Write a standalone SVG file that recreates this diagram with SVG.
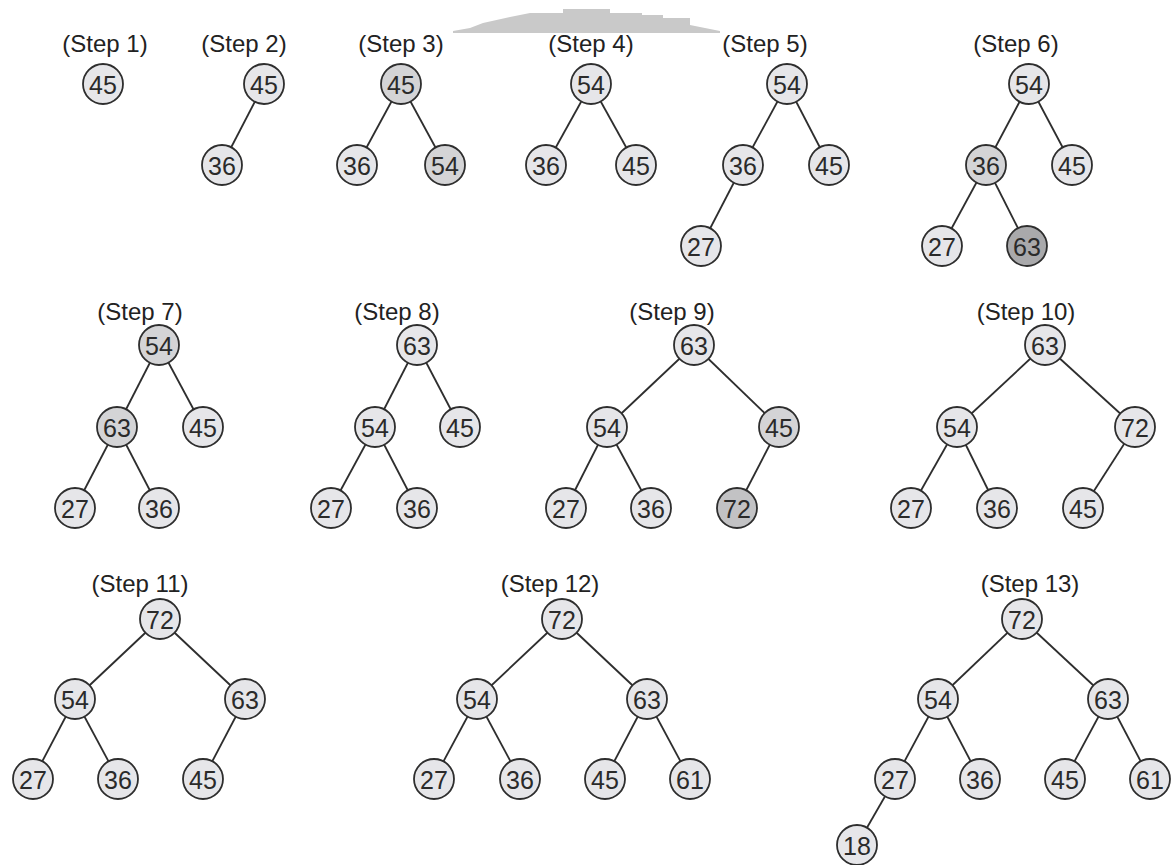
<svg xmlns="http://www.w3.org/2000/svg" width="1173" height="865" viewBox="0 0 1173 865">
<style>
.bg{fill:#ffffff}
.lbl{font-family:"Liberation Sans",Arial,sans-serif;font-size:24px;fill:#222;text-anchor:middle}
.n circle{fill:#e6e6e9;stroke:#2e2e2e;stroke-width:1.8}
.n.g circle{fill:#d4d4d6}
.n.g2 circle{fill:#c2c2c4}
.n.dg circle{fill:#a9a9ab}
.n text{font-family:"Liberation Sans",Arial,sans-serif;font-size:25px;fill:#2a2a2a;text-anchor:middle;dominant-baseline:central}
.e line{stroke:#2e2e2e;stroke-width:1.8}
</style>
<rect class="bg" x="0" y="0" width="1173" height="865"/>
<polygon fill="#c9c9c9" points="453,33 453,31 470,28 483,23 510,17 530,13 563,13 563,9 610,9 610,13 642,13 642,15 663,15 663,18 690,18 690,25 720,31 720,33"/>
<g id="labels">
<text class="lbl" x="105" y="52">(Step 1)</text>
<text class="lbl" x="244" y="52">(Step 2)</text>
<text class="lbl" x="401" y="52">(Step 3)</text>
<text class="lbl" x="591" y="52">(Step 4)</text>
<text class="lbl" x="765" y="52">(Step 5)</text>
<text class="lbl" x="1016" y="52">(Step 6)</text>
<text class="lbl" x="140" y="320">(Step 7)</text>
<text class="lbl" x="397" y="320">(Step 8)</text>
<text class="lbl" x="672" y="320">(Step 9)</text>
<text class="lbl" x="1026" y="320">(Step 10)</text>
<text class="lbl" x="140" y="592">(Step 11)</text>
<text class="lbl" x="550" y="592">(Step 12)</text>
<text class="lbl" x="1030" y="592">(Step 13)</text>
</g>
<g id="connectors" class="e">
<line x1="264" y1="84" x2="222" y2="165"/>
<line x1="401" y1="84" x2="357" y2="165"/>
<line x1="401" y1="84" x2="445" y2="165"/>
<line x1="591" y1="84" x2="546" y2="165"/>
<line x1="591" y1="84" x2="636" y2="165"/>
<line x1="787" y1="84" x2="743" y2="165"/>
<line x1="787" y1="84" x2="829" y2="165"/>
<line x1="743" y1="165" x2="701" y2="246"/>
<line x1="1029" y1="84" x2="986" y2="165"/>
<line x1="1029" y1="84" x2="1072" y2="165"/>
<line x1="986" y1="165" x2="942" y2="246"/>
<line x1="986" y1="165" x2="1027" y2="246"/>
<line x1="159" y1="345" x2="117" y2="427"/>
<line x1="159" y1="345" x2="203" y2="427"/>
<line x1="117" y1="427" x2="75" y2="508"/>
<line x1="117" y1="427" x2="159" y2="508"/>
<line x1="417" y1="345" x2="375" y2="427"/>
<line x1="417" y1="345" x2="460" y2="427"/>
<line x1="375" y1="427" x2="331" y2="508"/>
<line x1="375" y1="427" x2="417" y2="508"/>
<line x1="694" y1="345" x2="607" y2="427"/>
<line x1="694" y1="345" x2="779" y2="427"/>
<line x1="607" y1="427" x2="566" y2="508"/>
<line x1="607" y1="427" x2="651" y2="508"/>
<line x1="779" y1="427" x2="737" y2="508"/>
<line x1="1045" y1="345" x2="957" y2="427"/>
<line x1="1045" y1="345" x2="1135" y2="427"/>
<line x1="957" y1="427" x2="911" y2="508"/>
<line x1="957" y1="427" x2="997" y2="508"/>
<line x1="1135" y1="427" x2="1083" y2="508"/>
<line x1="160" y1="619" x2="75" y2="699"/>
<line x1="160" y1="619" x2="245" y2="699"/>
<line x1="75" y1="699" x2="33" y2="779"/>
<line x1="75" y1="699" x2="118" y2="779"/>
<line x1="245" y1="699" x2="203" y2="779"/>
<line x1="562" y1="619" x2="477" y2="699"/>
<line x1="562" y1="619" x2="647" y2="699"/>
<line x1="477" y1="699" x2="434" y2="779"/>
<line x1="477" y1="699" x2="520" y2="779"/>
<line x1="647" y1="699" x2="605" y2="779"/>
<line x1="647" y1="699" x2="690" y2="779"/>
<line x1="1022" y1="619" x2="938" y2="699"/>
<line x1="1022" y1="619" x2="1108" y2="699"/>
<line x1="938" y1="699" x2="895" y2="779"/>
<line x1="938" y1="699" x2="980" y2="779"/>
<line x1="1108" y1="699" x2="1065" y2="779"/>
<line x1="1108" y1="699" x2="1150" y2="779"/>
<line x1="895" y1="779" x2="857" y2="845"/>
</g>
<g id="s1-45" class="n"><circle cx="103" cy="84" r="20"/><text x="103" y="85">45</text></g>
<g id="s2-45" class="n"><circle cx="264" cy="84" r="20"/><text x="264" y="85">45</text></g>
<g id="s2-36" class="n"><circle cx="222" cy="165" r="20"/><text x="222" y="166">36</text></g>
<g id="s3-45" class="n g"><circle cx="401" cy="84" r="20"/><text x="401" y="85">45</text></g>
<g id="s3-36" class="n"><circle cx="357" cy="165" r="20"/><text x="357" y="166">36</text></g>
<g id="s3-54" class="n g"><circle cx="445" cy="165" r="20"/><text x="445" y="166">54</text></g>
<g id="s4-54" class="n"><circle cx="591" cy="84" r="20"/><text x="591" y="85">54</text></g>
<g id="s4-36" class="n"><circle cx="546" cy="165" r="20"/><text x="546" y="166">36</text></g>
<g id="s4-45" class="n"><circle cx="636" cy="165" r="20"/><text x="636" y="166">45</text></g>
<g id="s5-54" class="n"><circle cx="787" cy="84" r="20"/><text x="787" y="85">54</text></g>
<g id="s5-36" class="n"><circle cx="743" cy="165" r="20"/><text x="743" y="166">36</text></g>
<g id="s5-45" class="n"><circle cx="829" cy="165" r="20"/><text x="829" y="166">45</text></g>
<g id="s5-27" class="n"><circle cx="701" cy="246" r="20"/><text x="701" y="247">27</text></g>
<g id="s6-54" class="n"><circle cx="1029" cy="84" r="20"/><text x="1029" y="85">54</text></g>
<g id="s6-36" class="n g"><circle cx="986" cy="165" r="20"/><text x="986" y="166">36</text></g>
<g id="s6-45" class="n"><circle cx="1072" cy="165" r="20"/><text x="1072" y="166">45</text></g>
<g id="s6-27" class="n"><circle cx="942" cy="246" r="20"/><text x="942" y="247">27</text></g>
<g id="s6-63" class="n dg"><circle cx="1027" cy="246" r="20"/><text x="1027" y="247">63</text></g>
<g id="s7-54" class="n g"><circle cx="159" cy="345" r="20"/><text x="159" y="346">54</text></g>
<g id="s7-63" class="n g"><circle cx="117" cy="427" r="20"/><text x="117" y="428">63</text></g>
<g id="s7-45" class="n"><circle cx="203" cy="427" r="20"/><text x="203" y="428">45</text></g>
<g id="s7-27" class="n"><circle cx="75" cy="508" r="20"/><text x="75" y="509">27</text></g>
<g id="s7-36" class="n"><circle cx="159" cy="508" r="20"/><text x="159" y="509">36</text></g>
<g id="s8-63" class="n"><circle cx="417" cy="345" r="20"/><text x="417" y="346">63</text></g>
<g id="s8-54" class="n"><circle cx="375" cy="427" r="20"/><text x="375" y="428">54</text></g>
<g id="s8-45" class="n"><circle cx="460" cy="427" r="20"/><text x="460" y="428">45</text></g>
<g id="s8-27" class="n"><circle cx="331" cy="508" r="20"/><text x="331" y="509">27</text></g>
<g id="s8-36" class="n"><circle cx="417" cy="508" r="20"/><text x="417" y="509">36</text></g>
<g id="s9-63" class="n"><circle cx="694" cy="345" r="20"/><text x="694" y="346">63</text></g>
<g id="s9-54" class="n"><circle cx="607" cy="427" r="20"/><text x="607" y="428">54</text></g>
<g id="s9-45" class="n g"><circle cx="779" cy="427" r="20"/><text x="779" y="428">45</text></g>
<g id="s9-27" class="n"><circle cx="566" cy="508" r="20"/><text x="566" y="509">27</text></g>
<g id="s9-36" class="n"><circle cx="651" cy="508" r="20"/><text x="651" y="509">36</text></g>
<g id="s9-72" class="n g2"><circle cx="737" cy="508" r="20"/><text x="737" y="509">72</text></g>
<g id="s10-63" class="n"><circle cx="1045" cy="345" r="20"/><text x="1045" y="346">63</text></g>
<g id="s10-54" class="n"><circle cx="957" cy="427" r="20"/><text x="957" y="428">54</text></g>
<g id="s10-72" class="n"><circle cx="1135" cy="427" r="20"/><text x="1135" y="428">72</text></g>
<g id="s10-27" class="n"><circle cx="911" cy="508" r="20"/><text x="911" y="509">27</text></g>
<g id="s10-36" class="n"><circle cx="997" cy="508" r="20"/><text x="997" y="509">36</text></g>
<g id="s10-45" class="n"><circle cx="1083" cy="508" r="20"/><text x="1083" y="509">45</text></g>
<g id="s11-72" class="n"><circle cx="160" cy="619" r="20"/><text x="160" y="620">72</text></g>
<g id="s11-54" class="n"><circle cx="75" cy="699" r="20"/><text x="75" y="700">54</text></g>
<g id="s11-63" class="n"><circle cx="245" cy="699" r="20"/><text x="245" y="700">63</text></g>
<g id="s11-27" class="n"><circle cx="33" cy="779" r="20"/><text x="33" y="780">27</text></g>
<g id="s11-36" class="n"><circle cx="118" cy="779" r="20"/><text x="118" y="780">36</text></g>
<g id="s11-45" class="n"><circle cx="203" cy="779" r="20"/><text x="203" y="780">45</text></g>
<g id="s12-72" class="n"><circle cx="562" cy="619" r="20"/><text x="562" y="620">72</text></g>
<g id="s12-54" class="n"><circle cx="477" cy="699" r="20"/><text x="477" y="700">54</text></g>
<g id="s12-63" class="n"><circle cx="647" cy="699" r="20"/><text x="647" y="700">63</text></g>
<g id="s12-27" class="n"><circle cx="434" cy="779" r="20"/><text x="434" y="780">27</text></g>
<g id="s12-36" class="n"><circle cx="520" cy="779" r="20"/><text x="520" y="780">36</text></g>
<g id="s12-45" class="n"><circle cx="605" cy="779" r="20"/><text x="605" y="780">45</text></g>
<g id="s12-61" class="n"><circle cx="690" cy="779" r="20"/><text x="690" y="780">61</text></g>
<g id="s13-72" class="n"><circle cx="1022" cy="619" r="20"/><text x="1022" y="620">72</text></g>
<g id="s13-54" class="n"><circle cx="938" cy="699" r="20"/><text x="938" y="700">54</text></g>
<g id="s13-63" class="n"><circle cx="1108" cy="699" r="20"/><text x="1108" y="700">63</text></g>
<g id="s13-27" class="n"><circle cx="895" cy="779" r="20"/><text x="895" y="780">27</text></g>
<g id="s13-36" class="n"><circle cx="980" cy="779" r="20"/><text x="980" y="780">36</text></g>
<g id="s13-45" class="n"><circle cx="1065" cy="779" r="20"/><text x="1065" y="780">45</text></g>
<g id="s13-61" class="n"><circle cx="1150" cy="779" r="20"/><text x="1150" y="780">61</text></g>
<g id="s13-18" class="n"><circle cx="857" cy="845" r="20"/><text x="857" y="846">18</text></g>
</svg>
